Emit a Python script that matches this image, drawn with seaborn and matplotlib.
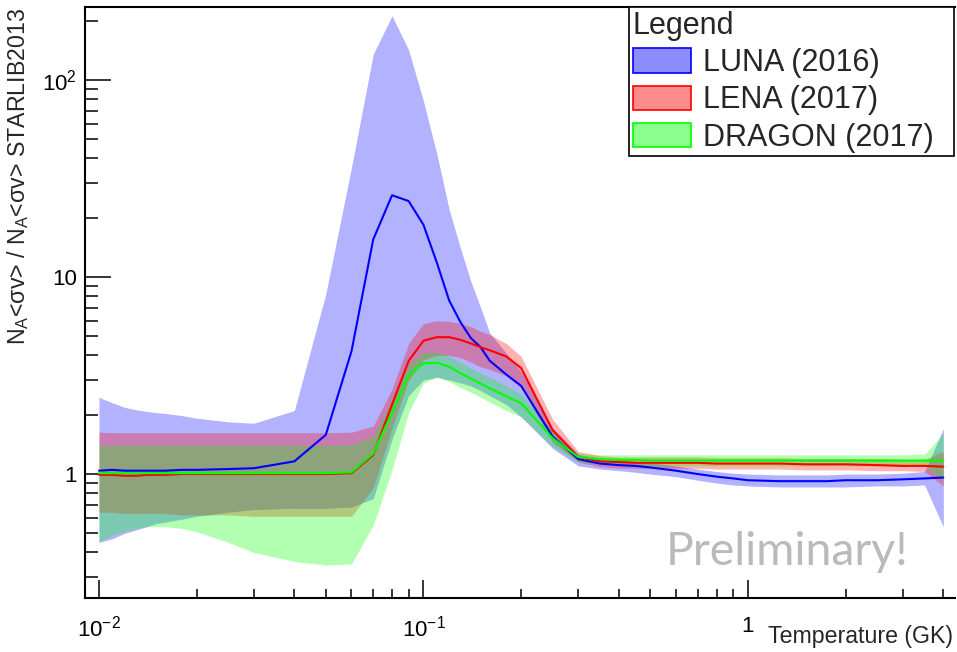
import numpy as np
import pandas as pd
import matplotlib
matplotlib.use("Agg")
import matplotlib.pyplot as plt
import seaborn as sns
from matplotlib.patches import Patch
from matplotlib.colors import to_rgba
from matplotlib.ticker import FixedLocator, FixedFormatter, LogLocator, NullFormatter

# ---------------- data ----------------
temperature_gk = [0.01, 0.011, 0.012, 0.013, 0.014, 0.015, 0.016, 0.018, 0.02,
                  0.025, 0.03, 0.04, 0.05, 0.06, 0.07, 0.08, 0.09,
                  0.1, 0.11, 0.12, 0.13, 0.14, 0.15, 0.16, 0.18, 0.2,
                  0.25, 0.3, 0.35, 0.4, 0.45, 0.5,
                  0.6, 0.7, 0.8, 0.9, 1.0,
                  1.25, 1.5, 1.75, 2.0, 2.5, 3.0, 3.5, 4.0]

luna_median = [1.04, 1.05, 1.04, 1.04, 1.04, 1.04, 1.04, 1.05, 1.05,
               1.06, 1.07, 1.16, 1.58, 4.2, 15.5, 26.0, 24.3,
               18.4, 11.8, 7.6, 5.9, 4.9, 4.4, 3.76, 3.2, 2.8,
               1.55, 1.19, 1.13, 1.11, 1.10, 1.08,
               1.04, 1.0, 0.97, 0.95, 0.93,
               0.92, 0.92, 0.92, 0.93, 0.93, 0.94, 0.95, 0.96]
luna_upper = [2.45, 2.3, 2.18, 2.12, 2.08, 2.05, 2.03, 1.98, 1.92,
              1.84, 1.81, 2.1, 8.2, 36, 135, 212, 142,
              78, 42, 22, 14, 9.5, 7.0, 5.2, 4.1, 3.3,
              1.72, 1.26, 1.2, 1.18, 1.16, 1.14,
              1.1, 1.06, 1.03, 1.01, 1.0,
              0.99, 0.99, 0.99, 1.0, 1.0, 1.01, 1.03, 1.7]
luna_lower = [0.45, 0.47, 0.50, 0.52, 0.54, 0.56, 0.57, 0.59, 0.61,
              0.64, 0.66, 0.67, 0.67, 0.68, 0.75, 1.5, 2.5,
              3.0, 3.1, 3.0, 2.9, 2.8, 2.65, 2.5, 2.25, 1.95,
              1.35, 1.1, 1.06, 1.04, 1.02, 1.0,
              0.97, 0.93, 0.9, 0.88, 0.87,
              0.86, 0.86, 0.86, 0.86, 0.87, 0.87, 0.88, 0.54]

lena_median = [0.99, 0.99, 0.98, 0.98, 0.99, 0.99, 0.99, 1.0, 1.0,
               1.0, 1.0, 1.0, 1.0, 1.01, 1.25, 2.25, 3.75,
               4.75, 4.95, 4.95, 4.8, 4.6, 4.4, 4.25, 3.95, 3.45,
               1.67, 1.22, 1.16, 1.15, 1.14, 1.14,
               1.14, 1.14, 1.13, 1.13, 1.13,
               1.13, 1.12, 1.12, 1.12, 1.11, 1.1, 1.1, 1.09]
lena_upper = [1.63, 1.62, 1.62, 1.62, 1.62, 1.62, 1.62, 1.62, 1.62,
              1.62, 1.62, 1.62, 1.62, 1.63, 1.75, 2.7, 4.6,
              5.8, 6.0, 5.95, 5.8, 5.6, 5.3, 5.1, 4.6, 3.95,
              1.9, 1.3, 1.24, 1.22, 1.22, 1.22,
              1.22, 1.22, 1.21, 1.21, 1.21,
              1.21, 1.2, 1.2, 1.2, 1.2, 1.19, 1.19, 1.3]
lena_lower = [0.64, 0.64, 0.63, 0.63, 0.63, 0.63, 0.63, 0.62, 0.62,
              0.62, 0.61, 0.61, 0.61, 0.61, 0.85, 1.7, 3.0,
              3.8, 4.0, 4.0, 3.9, 3.7, 3.5, 3.4, 3.15, 2.75,
              1.45, 1.15, 1.09, 1.07, 1.07, 1.07,
              1.07, 1.07, 1.06, 1.06, 1.06,
              1.06, 1.05, 1.05, 1.05, 1.04, 1.04, 1.03, 0.87]

dragon_median = [1.01, 1.01, 1.01, 1.01, 1.01, 1.01, 1.01, 1.01, 1.01,
                 1.01, 1.01, 1.01, 1.01, 1.02, 1.27, 2.05, 3.18,
                 3.65, 3.67, 3.5, 3.25, 3.05, 2.88, 2.72, 2.48, 2.29,
                 1.52, 1.22, 1.19, 1.18, 1.18, 1.17,
                 1.17, 1.17, 1.17, 1.17, 1.17,
                 1.17, 1.17, 1.17, 1.17, 1.17, 1.17, 1.17, 1.17]
dragon_upper = [1.40, 1.40, 1.40, 1.40, 1.40, 1.40, 1.40, 1.40, 1.40,
                1.40, 1.40, 1.40, 1.40, 1.41, 1.55, 2.4, 3.6,
                4.15, 4.15, 3.95, 3.7, 3.45, 3.25, 3.1, 2.8, 2.55,
                1.65, 1.27, 1.25, 1.25, 1.25, 1.25,
                1.25, 1.25, 1.25, 1.25, 1.25,
                1.25, 1.25, 1.25, 1.25, 1.25, 1.25, 1.26, 1.6]
dragon_lower = [0.45, 0.49, 0.51, 0.53, 0.54, 0.54, 0.54, 0.53, 0.51,
                0.45, 0.40, 0.36, 0.345, 0.35, 0.55, 1.05, 2.05,
                2.9, 3.1, 2.95, 2.75, 2.6, 2.45, 2.32, 2.1, 1.95,
                1.38, 1.15, 1.12, 1.11, 1.1, 1.1,
                1.1, 1.1, 1.1, 1.1, 1.1,
                1.1, 1.1, 1.1, 1.1, 1.1, 1.1, 1.1, 0.92]

series_names = ["LUNA (2016)", "LENA (2017)", "DRAGON (2017)"]
series_colors = ["#0000ff", "#ff0000", "#00ff00"]

x_ticks = [0.01, 0.1, 1]
x_tick_labels = [r"$10^{-2}$", r"$10^{-1}$", "1"]
y_ticks = [1, 10, 100]
y_tick_labels = ["1", "10", r"$10^{2}$"]

# ---------------- style ----------------
sns.set_theme(style="white")
plt.rcParams["font.family"] = ["Liberation Sans", "DejaVu Sans"]
plt.rcParams["mathtext.fontset"] = "custom"
plt.rcParams["mathtext.rm"] = "Liberation Sans"
plt.rcParams["mathtext.it"] = "Liberation Sans:italic"
plt.rcParams["mathtext.bf"] = "Liberation Sans:bold"
plt.rcParams["mathtext.default"] = "regular"

fig = plt.figure(figsize=(9.57, 6.52), dpi=100)
ax = fig.add_axes([0.0888, 0.0828, 0.9091, 0.906])

bands = [(luna_lower, luna_upper), (lena_lower, lena_upper), (dragon_lower, dragon_upper)]
for (lo, up), col in zip(bands, series_colors):
    ax.fill_between(temperature_gk, lo, up, color=col, alpha=0.3, linewidth=0, zorder=1)

df = pd.DataFrame({
    "T": temperature_gk * 3,
    "ratio": luna_median + lena_median + dragon_median,
    "set": [series_names[0]] * len(temperature_gk)
           + [series_names[1]] * len(temperature_gk)
           + [series_names[2]] * len(temperature_gk),
})
sns.lineplot(data=df, x="T", y="ratio", hue="set", hue_order=series_names,
             palette=dict(zip(series_names, series_colors)), estimator=None,
             sort=False, linewidth=1.5, legend=False, ax=ax, zorder=3)

ax.set_xscale("log")
ax.set_yscale("log")
ax.set_xlim(0.009054, 4.345)
ax.set_ylim(0.2348, 233.9)

ax.xaxis.set_major_locator(FixedLocator(x_ticks))
ax.xaxis.set_major_formatter(FixedFormatter(x_tick_labels))
ax.xaxis.set_minor_locator(LogLocator(base=10, subs=np.arange(2, 10), numticks=20))
ax.xaxis.set_minor_formatter(NullFormatter())
ax.yaxis.set_major_locator(FixedLocator(y_ticks))
ax.yaxis.set_major_formatter(FixedFormatter(y_tick_labels))
ax.yaxis.set_minor_locator(LogLocator(base=10, subs=np.arange(2, 10), numticks=20))
ax.yaxis.set_minor_formatter(NullFormatter())

ax.tick_params(axis="both", which="both", direction="in", colors="black",
               bottom=True, left=True, top=False, right=False, width=1.1)
ax.tick_params(axis="x", which="major", length=13, pad=13, labelsize=16)
ax.tick_params(axis="x", which="minor", length=6.5)
ax.tick_params(axis="y", which="major", length=19, pad=6, labelsize=16)
ax.tick_params(axis="y", which="minor", length=9.5)

for side in ["left", "bottom", "top"]:
    ax.spines[side].set_color("black")
    ax.spines[side].set_linewidth(1.5)
ax.spines["right"].set_visible(False)
ax.set_xlabel("")
ax.set_ylabel("")

fig.text(18 / 957, 1 - 8 / 652, r"N$_{A}$<σv> / N$_{A}$<σv> STARLIB2013",
         rotation=90, ha="center", va="top", fontsize=16.7)
fig.text(953 / 957, 1 - 636 / 652, "Temperature (GK)", ha="right", va="center",
         fontsize=16.7)
fig.text(787 / 957, 1 - 552 / 652, "Preliminary!", color="#bababa", fontsize=33.5,
         family=["Lato", "DejaVu Sans"], ha="center", va="center")

handles = [Patch(facecolor=to_rgba(c, 0.45), edgecolor=c, linewidth=1.2) for c in series_colors]
leg = fig.legend(handles, series_names, title="Legend", loc="upper left",
                 bbox_to_anchor=(629 / 957, 1 - 7 / 652, 325 / 957, 0), mode="expand",
                 fontsize=22, title_fontsize=22, alignment="left", frameon=True,
                 fancybox=False, edgecolor="black", framealpha=1, borderaxespad=0,
                 handlelength=1.9, handleheight=0.85, handletextpad=0.4,
                 labelspacing=0.24, borderpad=0.12)
leg.get_frame().set_linewidth(1.2)

fig.savefig("out.png", dpi=100)
